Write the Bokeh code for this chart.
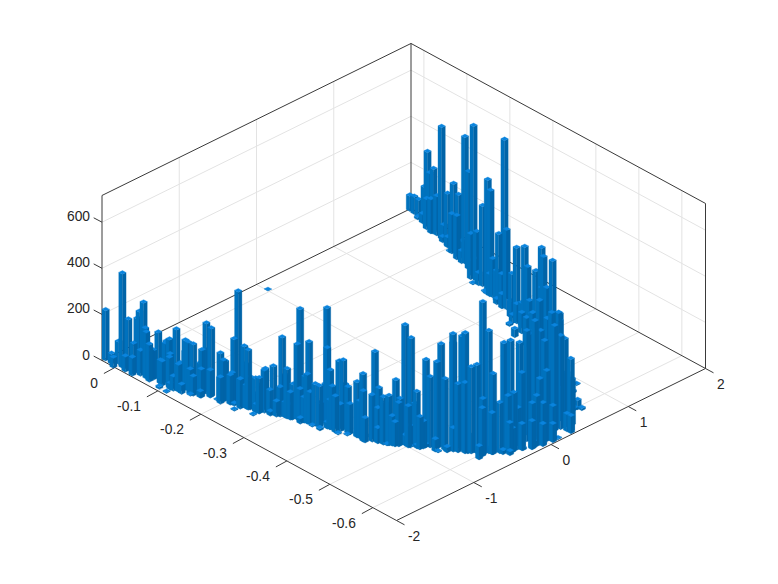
from bokeh.plotting import figure
from bokeh.models import Range1d
from bokeh.embed import file_html
from bokeh.resources import INLINE
from bokeh.core.properties import value

u_ticks=[0,-0.1,-0.2,-0.3,-0.4,-0.5,-0.6]
u_labels=["0","-0.1","-0.2","-0.3","-0.4","-0.5","-0.6"]
v_ticks=[-2,-1,0,1,2]
v_labels=["-2","-1","0","1","2"]
z_ticks=[0,200,400,600]
z_labels=["0","200","400","600"]

left_u=[.029,.015,.004,-.006,.007,-.017,-.032,-.018,-.035,-.027,-.034,-.043,-.049,-.057,-.067,-.068,-.067,-.09,-.086,-.094,-.106,-.103,-.114,-.122,-.125,-.13,-.14,-.141,-.157,-.169,-.154,-.16,-.147,-.186,-.194,-.195,-.21,-.21,-.21,-.228,-.239,-.228,-.241,-.252,-.26,-.264,-.276,-.29,-.302,-.314,-.316,-.333,-.336,-.349,-.358,-.323,-.309,-.355,-.36,-.37,-.38,-.389,-.403,-.377,-.387,-.369,-.094,-.111,.007,-.144,-.13,-.192,-.215,-.226,-.236,-.255,-.258,-.248,-.275,-.286,-.298,-.31,-.328,-.348,-.394,-.407,-.365,-.277,-.185,-.108,-.159]
left_v=[-1.958,-1.96,-1.997,-1.936,-1.913,-1.92,-1.936,-1.965,-1.968,-1.859,-1.87,-1.868,-1.879,-1.91,-1.927,-1.816,-1.875,-1.889,-1.811,-1.816,-1.793,-1.866,-1.877,-1.855,-1.782,-1.775,-1.765,-1.81,-1.689,-1.693,-1.729,-1.773,-1.803,-1.669,-1.674,-1.719,-1.65,-1.572,-1.624,-1.594,-1.604,-1.646,-1.59,-1.581,-1.579,-1.533,-1.484,-1.448,-1.451,-1.35,-1.396,-1.339,-1.378,-1.348,-1.346,-1.4,-1.41,-1.229,-1.254,-1.271,-1.21,-1.208,-1.224,-1.283,-1.3,-1.304,-1.947,-1.949,.02,-1.823,-1.859,-1.661,-1.649,-1.711,-1.52,-1.587,-1.645,-1.47,-1.491,-1.5,-1.452,-1.43,-1.425,-1.381,-1.304,-1.256,-1.377,-1.529,-1.702,-1.884,-1.78]
left_n=[217,43,43,408,95,217,130,65,78,221,260,308,204,200,160,195,126,104,174,191,243,130,61,117,213,208,208,108,304,295,191,121,82,200,178,113,135,477,278,260,256,126,139,143,152,182,204,338,213,469,325,343,212,178,178,139,147,495,330,247,286,299,200,186,156,26,9,4,1,4,39,48,9,4,52,35,4,87,43,65,65,65,22,4,4,4,9,17,4,26,26]

front_u=[-.044,-.064,-.084,-.101,-.119,-.132,-.15,-.17,-.188,-.208,-.223,-.235,-.259,-.274,-.29,-.308,-.33,-.341,-.356,-.374,-.39,-.407,-.427,-.464,-.487,-.504,-.045,-.085,-.118,-.151,-.189,-.222,-.258,-.289,-.322,-.356,-.389]
front_v=[-1.913,-1.895,-1.877,-1.847,-1.816,-1.761,-1.73,-1.712,-1.682,-1.664,-1.62,-1.605,-1.56,-1.517,-1.474,-1.443,-1.386,-1.37,-1.327,-1.296,-1.253,-1.223,-1.205,-1.085,-1.02,-.918,-1.854,-1.818,-1.745,-1.671,-1.623,-1.549,-1.488,-1.402,-1.329,-1.255,-1.182]
front_n=[108,126,100,139,113,95,130,117,95,126,113,100,117,104,126,117,108,139,100,126,117,130,160,170,200,180,170,165,150,180,160,170,175,165,180,170,190]

mid_u=[-.422,-.433,-.438,-.446,-.448,-.457,-.467,-.475,-.478,-.484,-.495,-.51,-.488,-.501,-.516,-.525,-.518,-.535,-.535,-.548,-.557,-.553,-.565,-.573,-.567,-.577,-.584,-.59,-.592,-.603,-.61,-.601,-.615,-.611,-.62,-.62,-.626,-.621,-.626,-.61,-.64,-.639,-.64,-.645,-.64,-.647,-.626,-.644,-.628,-.632,-.612,-.608,-.551,-.547,-.561,-.602,-.609,-.601,-.649,-.648,-.638,-.641,-.621,-.631,-.634,-.606,-.599,-.607,-.545,-.555,-.52,-.513,-.503,-.473,-.441,-.42,-.56,-.58,-.54,-.52,-.5,-.493,-.484,-.456,-.442,-.479,-.458,-.603,-.609,-.626,-.633,-.626,-.642,-.647,-.649,-.627]
mid_v=[-1.213,-1.197,-1.222,-1.115,-1.161,-1.125,-1.123,-1.095,-1.022,-.936,-.92,-.93,-1.04,-.991,-.843,-.841,-.934,-.806,-.754,-.777,-.722,-.697,-.649,-.653,-.713,-.678,-.637,-.597,-.531,-.515,-.5,-.581,-.44,-.363,-.328,-.361,-.32,-.217,-.216,-.024,-.16,-.056,-.102,-.048,.029,.07,.34,.318,.353,.399,.251,.36,.536,.933,.806,.64,.655,.607,.293,.129,.042,-.153,-.432,-.397,-.246,-.658,-.516,-.495,-.849,-.788,-.875,-.942,-.977,-1.109,-1.123,-1.2,-.735,-.658,-.857,-.901,-.965,-.986,-1.067,-1.132,-1.221,-1.075,-1.145,-.6,-.507,-.372,-.253,-.268,-.173,-.06,.058,-.346]
mid_n=[239,282,217,378,200,234,204,213,273,503,455,239,187,178,369,304,139,373,442,308,503,456,490,512,295,304,373,382,646,529,347,243,217,460,473,239,252,447,321,442,195,282,217,182,304,152,377,312,230,200,490,469,356,4,9,39,9,9,74,4,17,30,17,17,9,56,17,22,4,22,13,13,4,4,13,13,100,82,52,117,87,43,104,147,104,126,65,208,178,130,113,178,121,95,78,104]

back_u=[.029,.017,.005,-.015,-.025,-.03,-.043,-.056,-.045,-.031,-.07,-.092,-.11,-.129,-.132,-.113,-.15,-.177,-.167,-.192,-.203,-.221,-.238,-.245,-.274,-.277,-.299,-.337,-.364,-.376,-.408,-.432,-.443,-.437,-.451,-.471,-.466,-.497,-.077,-.095,-.108,-.114,-.133,-.146,-.192,-.184,-.257,-.251,-.27,-.285,-.214,-.206,-.237,-.277,-.292,-.321,-.342,-.354,-.387,-.337,-.37,-.399,.001,-.013,-.078,-.047,-.323,-.243,-.34,-.371,-.404,-.418,-.487,-.513,-.596,-.613,-.64,-.631]
back_v=[1.98,1.97,1.959,1.925,1.908,1.909,1.886,1.856,1.841,1.863,1.84,1.794,1.772,1.731,1.692,1.733,1.697,1.658,1.649,1.538,1.553,1.531,1.503,1.499,1.519,1.428,1.407,1.325,1.28,1.25,1.18,1.12,1.084,1.095,1.079,1.045,1.063,.993,1.829,1.781,1.733,1.792,1.751,1.676,1.59,1.594,1.462,1.455,1.439,1.423,1.517,1.489,1.47,1.402,1.386,1.335,1.3,1.297,1.214,1.273,1.209,1.177,1.927,1.911,1.81,1.854,1.341,1.459,1.216,1.112,1.08,1.084,.879,.697,.417,.388,.29,.374]
back_n=[65,74,74,156,321,234,269,169,147,130,486,226,291,269,187,169,547,629,421,195,213,347,482,443,690,299,343,317,356,286,312,447,425,282,299,442,208,247,69,43,4,43,69,52,78,61,165,95,130,134,52,4,4,22,61,69,82,100,156,35,87,117,9,39,22,74,187,4,9,35,121,156,234,130,108,143,74,78]

turn_u=[-.618,-.616,-.615,-.633,-.626,-.628,-.542,-.514,-.564,-.522]
turn_v=[-.107,.01,.089,.041,.209,.275,.482,.573,.618,.751]
turn_n=[477,499,442,425,455,403,434,260,347,239]

bar_u=left_u+front_u+mid_u+back_u+turn_u
bar_v=left_v+front_v+mid_v+back_v+turn_v
bar_n=left_n+front_n+mid_n+back_n+turn_n

U_MAX,U_MIN=0.03,-0.655
V_MIN,V_MAX=-2,2
Z_MIN,Z_MAX=0,716
HALF_U,HALF_V=0.0042,0.024
TOP,LEFT,RIGHT="#0a84de","#0072bd","#0064a8"

def proj(u,v,z):
    a=(U_MAX-u)/(U_MAX-U_MIN); b=(v-V_MIN)/(V_MAX-V_MIN)
    return 101.5+294.5*a+309*b, 360+160*a-152*b-z*46.1/200

p=figure(width=762,height=568,x_range=Range1d(0,762),y_range=Range1d(568,0),output_backend="svg",toolbar_location=None,min_border=0,outline_line_color=None)
p.axis.visible=False
p.grid.visible=False
def seg(P,Q,color,w):
    p.line([P[0],Q[0]],[P[1],Q[1]],line_color=color,line_width=w)
G="#e3e3e3"; K="#3a3a3a"
for t in v_ticks[1:-1]:
    seg(proj(U_MIN,t,0),proj(U_MAX,t,0),G,1); seg(proj(U_MAX,t,0),proj(U_MAX,t,Z_MAX),G,1)
for t in u_ticks:
    seg(proj(t,V_MIN,0),proj(t,V_MAX,0),G,1); seg(proj(t,V_MAX,0),proj(t,V_MAX,Z_MAX),G,1)
for t in z_ticks[1:]:
    seg(proj(U_MAX,V_MIN,t),proj(U_MAX,V_MAX,t),G,1); seg(proj(U_MAX,V_MAX,t),proj(U_MIN,V_MAX,t),G,1)
A=(U_MAX,V_MIN);B=(U_MIN,V_MIN);C=(U_MIN,V_MAX);D=(U_MAX,V_MAX)
for P,Q in [(A,B),(B,C),(A,D),(D,C)]:
    seg(proj(*P,0),proj(*Q,0),K,1)
for P,Q in [(A,D),(D,C)]:
    seg(proj(*P,Z_MAX),proj(*Q,Z_MAX),K,1)
for P in [A,D,C]:
    seg(proj(*P,0),proj(*P,Z_MAX),K,1)
font=value("Liberation Sans")
def lab(x,y,t,al):
    p.text([x],[y],text=[t],text_font=font,text_font_size="13.8px",text_color="#262626",text_align=al,text_baseline="middle")
for t,l in zip(z_ticks,z_labels):
    x,y=proj(U_MAX,V_MIN,t); seg((x,y),(x-8.3,y-4.4),K,1); lab(x-12,y-6,l,"right")
for t,l in zip(u_ticks,u_labels):
    x,y=proj(t,V_MIN,0); seg((x,y),(x-11,y+6),K,1); lab(x-17,y+15,l,"right")
for t,l in zip(v_ticks,v_labels):
    x,y=proj(U_MIN,t,0); seg((x,y),(x+8,y+4.3),K,1); lab(x+11.5,y+15,l,"left")

xs,ys,cols=[],[],[]
bars=sorted(zip(bar_u,bar_v,bar_n),key=lambda r:proj(r[0],r[1],0)[1])
for u,v,n in bars:
    west=(u+HALF_U,v-HALF_V); east=(u-HALF_U,v+HALF_V)
    north=(u+HALF_U,v+HALF_V); south=(u-HALF_U,v-HALF_V)
    for pair,col in (((west,south),LEFT),((south,east),RIGHT)):
        pts=[proj(*pair[0],0),proj(*pair[1],0),proj(*pair[1],n),proj(*pair[0],n)]
        xs.append([q[0] for q in pts]); ys.append([q[1] for q in pts]); cols.append(col)
    pts=[proj(*c,n) for c in (west,south,east,north)]
    xs.append([q[0] for q in pts]); ys.append([q[1] for q in pts]); cols.append(TOP)
p.patches(xs,ys,fill_color=cols,line_color=cols,line_width=0.3)
open("out.html","w").write(file_html(p,INLINE))
